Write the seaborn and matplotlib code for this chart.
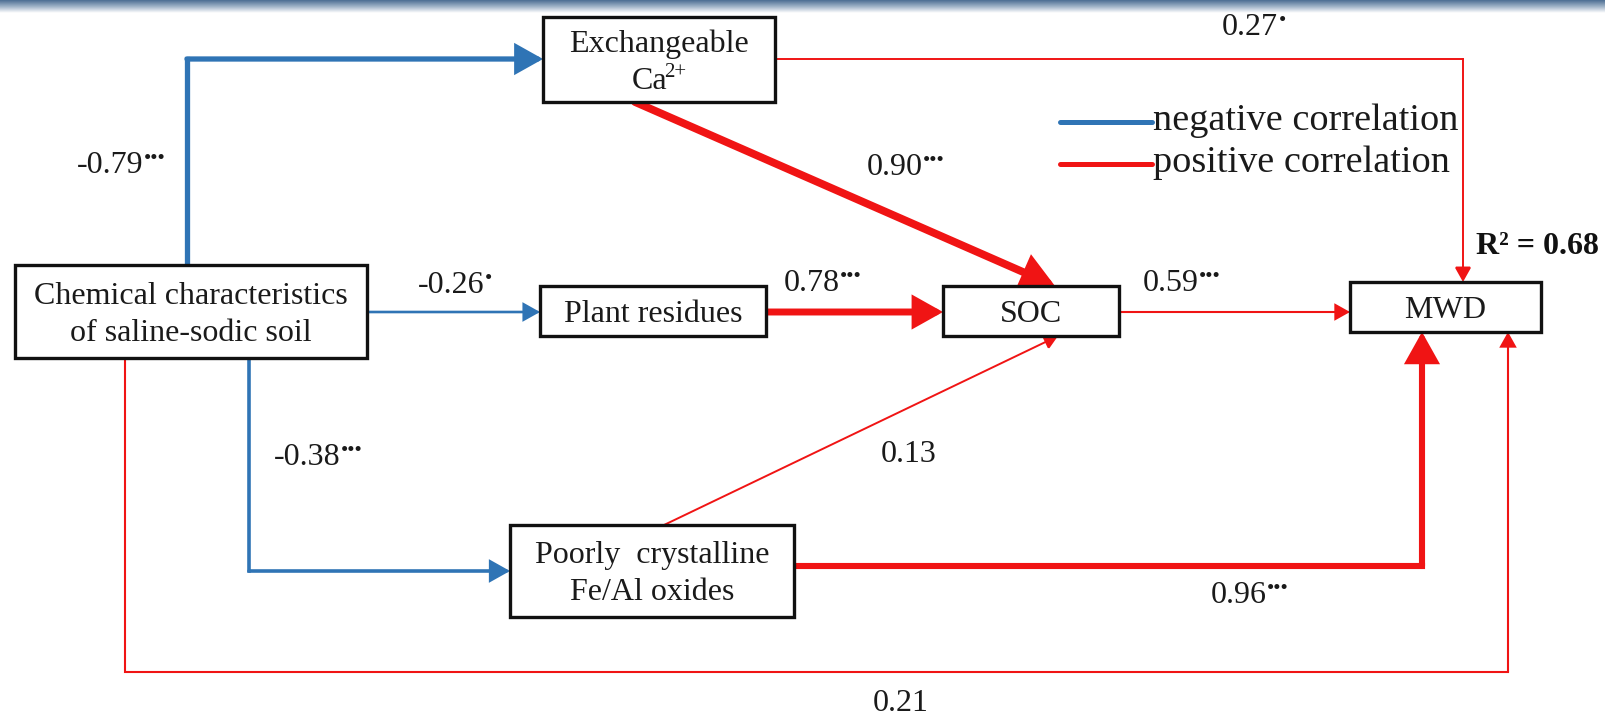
import numpy as np
import pandas as pd
import matplotlib
matplotlib.use("Agg")
import matplotlib.pyplot as plt
import seaborn as sns
from matplotlib.patches import Rectangle
from matplotlib.colors import LinearSegmentedColormap

# ---------------- data ----------------
node_keys = ["chem", "exch", "plant", "soc", "poorly", "mwd"]
# each node: list of lines; a line may be (base, superscript)
node_labels = [
    ["Chemical characteristics", "of saline-sodic soil"],
    ["Exchangeable", ("Ca", "2+")],
    ["Plant residues"],
    ["SOC"],
    ["Poorly  crystalline", "Fe/Al oxides"],
    ["MWD"],
]

edge_from = ["chem", "chem", "chem", "chem", "exch", "exch", "plant", "poorly", "poorly", "soc"]
edge_to   = ["exch", "plant", "poorly", "mwd", "soc", "mwd", "soc", "soc", "mwd", "mwd"]
edge_coef = [-0.79, -0.26, -0.38, 0.21, 0.90, 0.27, 0.78, 0.13, 0.96, 0.59]
edge_sig  = [3, 1, 3, 0, 3, 1, 3, 0, 3, 3]   # number of significance marks
r_squared = 0.68
legend_labels = ["negative correlation", "positive correlation"]

# ---------------- layout / style ----------------
BLUE = "#2f74b5"
RED = "#f01414"
TXT = "#1a1a1a"
W, H = 1606, 721

boxes = {  # x0, y0, x1, y1 (pixels, y downward)
    "chem":   (15, 265, 367, 358),
    "exch":   (543, 17, 775, 102),
    "plant":  (540, 286, 766, 336),
    "soc":    (943, 286, 1119, 336),
    "poorly": (510, 525, 794, 617),
    "mwd":    (1350, 282, 1541, 332),
}
paths = [
    [(187, 265), (187, 59), (543, 59)],
    [(367, 312), (540, 312)],
    [(249, 358), (249, 571), (510, 571)],
    [(125, 358), (125, 672), (1508, 672), (1508, 332)],
    [(635, 102), (1055, 286)],
    [(775, 59), (1463, 59), (1463, 282)],
    [(766, 312), (943, 312)],
    [(664, 525), (1058, 336)],
    [(794, 566), (1422, 566), (1422, 332)],
    [(1119, 312), (1350, 312)],
]
widths = [3.8, 1.9, 2.6, 1.5, 5.6, 1.4, 5.0, 1.4, 4.4, 1.5]
heads = [20, 13, 15, 12, 22, 12, 20, 11, 22, 12]
label_pos = [(121, 162), (455, 282), (318, 454), (901, 700), (906, 164),
             (1254, 24), (823, 280), (909, 451), (1250, 592), (1182, 280)]

sns.set_theme(style="white")
plt.rcParams["font.family"] = ["Liberation Serif", "DejaVu Serif"]

fig = plt.figure(figsize=(W / 100, H / 100), dpi=100)
ax = fig.add_axes([0, 0, 1, 1])
ax.set_xlim(0, W)
ax.set_ylim(H, 0)
ax.axis("off")
renderer = fig.canvas.get_renderer()


def text_width(s, fs, weight="normal"):
    t = ax.text(0, 0, s, fontsize=fs, fontweight=weight)
    w = t.get_window_extent(renderer).width
    t.remove()
    return w


def draw_sup(cx, cy, base, sup, fs, sup_fs, sup_rise, gap=1.0, ha="center",
             weight="normal", color=TXT):
    """Draw base text with superscript; cx,cy = visual centre (or left,centre)."""
    px = fs * 100 / 72
    wb = text_width(base, fs, weight)
    ws = text_width(sup, sup_fs, weight) if sup else 0
    total = wb + (ws + gap if sup else 0)
    x0 = cx - total / 2 if ha == "center" else cx
    yb = cy + 0.33 * px
    ax.text(x0, yb, base, fontsize=fs, fontweight=weight, ha="left",
            va="baseline", color=color, zorder=6)
    if sup:
        ax.text(x0 + wb + gap, yb - sup_rise, sup, fontsize=sup_fs,
                fontweight=weight, ha="left", va="baseline", color=color, zorder=6)


# top banner gradient
cmap = LinearSegmentedColormap.from_list("bar", ["#4d6e93", "#9fb3c8", "#ffffff"])
grad = np.linspace(0, 1, 50).reshape(-1, 1)
ax.imshow(grad, extent=[0, W, 13, 0], aspect="auto", cmap=cmap, zorder=0)
ax.set_xlim(0, W)
ax.set_ylim(H, 0)

FS_BOX = 23
FS_LAB = 23
FS_LEG = 27.5
LINE_GAP = 37

# edges
for i, pts in enumerate(paths):
    col = BLUE if edge_coef[i] < 0 else RED
    lw = widths[i]
    if len(pts) > 2:
        xs = [p[0] for p in pts[:-1]]
        ys = [p[1] for p in pts[:-1]]
        ax.plot(xs, ys, color=col, lw=lw, solid_capstyle="projecting",
                solid_joinstyle="miter", zorder=2)
    ax.annotate("", xy=pts[-1], xytext=pts[-2],
                arrowprops=dict(arrowstyle="-|>,head_length=0.75,head_width=0.42",
                                color=col, lw=lw, shrinkA=0, shrinkB=0,
                                mutation_scale=heads[i], joinstyle="miter"),
                zorder=3)
    marks = "\u2022" * edge_sig[i]
    draw_sup(label_pos[i][0], label_pos[i][1], f"{edge_coef[i]:.2f}", marks,
             FS_LAB, 15, 9, gap=0.5)

# boxes
for key, lines in zip(node_keys, node_labels):
    x0, y0, x1, y1 = boxes[key]
    ax.add_patch(Rectangle((x0, y0), x1 - x0, y1 - y0, facecolor="white",
                           edgecolor="#111111", lw=2.4, zorder=4))
    cx, cy = (x0 + x1) / 2, (y0 + y1) / 2
    n = len(lines)
    for j, ln in enumerate(lines):
        ly = cy + (j - (n - 1) / 2) * LINE_GAP
        if isinstance(ln, tuple):
            draw_sup(cx, ly, ln[0], ln[1], FS_BOX, 15, 12, gap=-3)
        else:
            draw_sup(cx, ly, ln, "", FS_BOX, 15, 0)

# R squared
ax.text(1476, 254, f"R\u00b2 = {r_squared:.2f}", fontsize=FS_LAB, fontweight="bold",
        ha="left", va="baseline", color="#111111", zorder=6)

# legend via seaborn
leg_df = pd.DataFrame({
    "x": [1060, 1152, 1060, 1152],
    "y": [122, 122, 164, 164],
    "kind": [legend_labels[0], legend_labels[0], legend_labels[1], legend_labels[1]],
})
sns.lineplot(data=leg_df, x="x", y="y", hue="kind", palette=[BLUE, RED],
             lw=3.6, legend=False, ax=ax, zorder=3)
for lab, yy in zip(legend_labels, [121, 163]):
    ax.text(1153, yy, lab, fontsize=FS_LEG, ha="left", va="center",
            color=TXT, zorder=6)

ax.set_xlim(0, W)
ax.set_ylim(H, 0)
ax.axis("off")
fig.savefig("out.png", dpi=100, facecolor="white")
